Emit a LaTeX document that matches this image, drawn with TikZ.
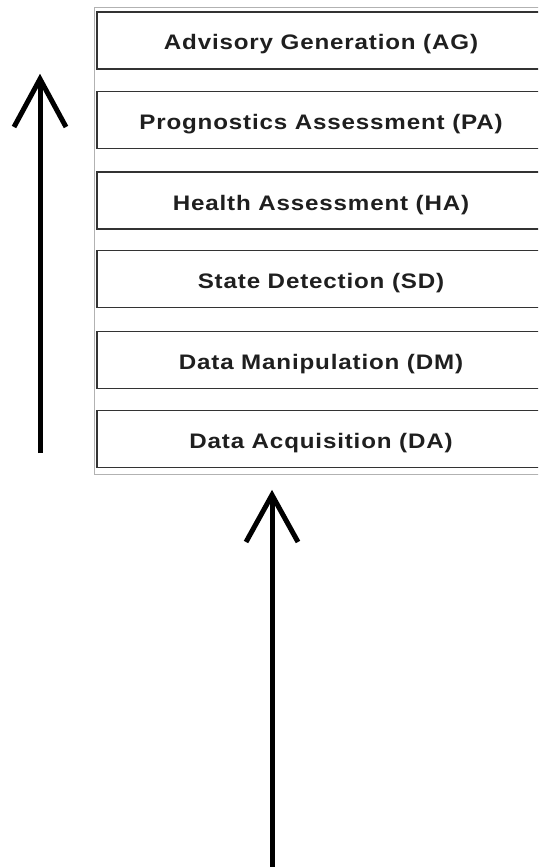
\documentclass[tikz,border=0pt]{standalone}
\usepackage{fontspec}
\newfontfamily\boxfont{Liberation Sans}[LetterSpace=4,FakeStretch=1.15]
\begin{document}
\begin{tikzpicture}[x=1pt,y=-1pt,
  layerbox/.style={draw=black!80, line width=1.5pt, minimum width=448pt, minimum height=57pt,
    inner sep=0pt, text height=19pt, text depth=0pt,
    font=\boxfont\bfseries\fontsize{21}{25}\selectfont, text=black!88},
  bigarrow/.style={line width=5pt, black},
  chevron/.style={line width=5pt, black, line cap=butt, line join=miter}]
\useasboundingbox (0,0) rectangle (538,867);
\clip (0,0) rectangle (538,867);
\fill[white] (0,0) rectangle (538,867);
\draw[black!30, line width=1pt] (94,474) -- (94,8) -- (560,8);
\draw[black!30, line width=1pt] (94,474) -- (560,474);
\node[layerbox] (ag) at (321,40.5) {Advisory Generation (AG)};
\node[layerbox] (pa) at (321,120) {Prognostics Assessment (PA)};
\node[layerbox] (ha) at (321,200.5) {Health Assessment (HA)};
\node[layerbox] (sd) at (321,279) {State Detection (SD)};
\node[layerbox] (dm) at (321,360) {Data Manipulation (DM)};
\node[layerbox] (da) at (321,439) {Data Acquisition (DA)};
% left arrow
\coordinate (lbot) at (40,453);
\coordinate (ltip) at (40,79);
\draw[bigarrow] (lbot) -- (ltip);
\draw[chevron] (ltip) ++(-26,48) -- (ltip) -- ++(26,48);
% bottom arrow
\coordinate (bbot) at (272,870);
\coordinate (btip) at (272,495);
\draw[bigarrow] (bbot) -- (btip);
\draw[chevron] (btip) ++(-26,47) -- (btip) -- ++(26,47);
\end{tikzpicture}
\end{document}
